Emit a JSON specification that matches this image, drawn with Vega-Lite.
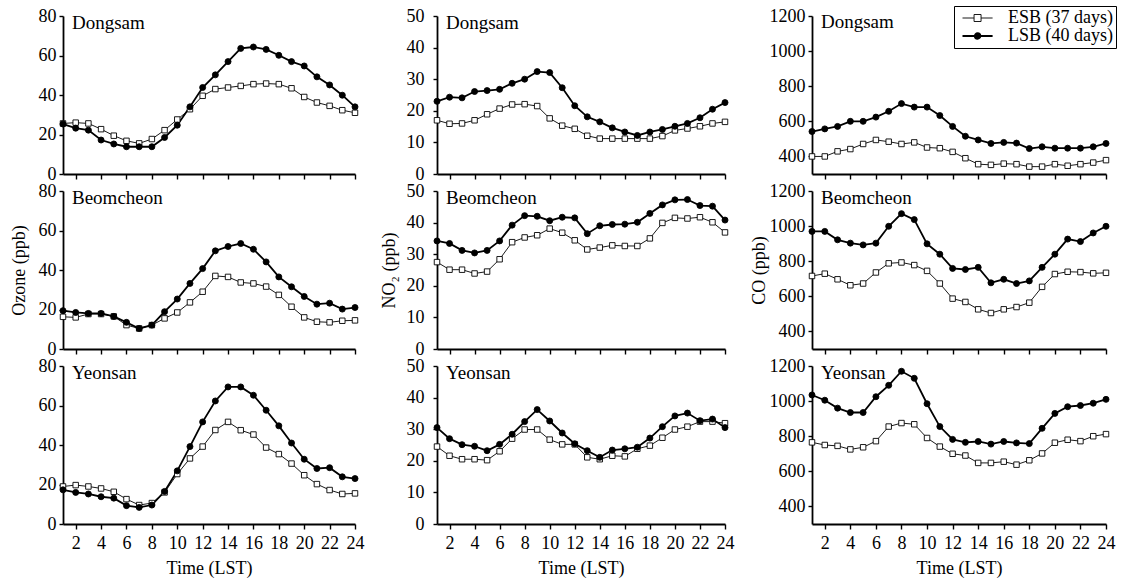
{
"$schema": "https://vega.github.io/schema/vega-lite/v6.json",
"background": "white",
"padding": {"left": 10, "top": 5, "right": 5, "bottom": 5},
"datasets": {
"D_O3": [
{"g":"ESB (37 days)","h":1,"v":25.6},{"g":"ESB (37 days)","h":2,"v":26},{"g":"ESB (37 days)","h":3,"v":25.6},{"g":"ESB (37 days)","h":4,"v":22.7},{"g":"ESB (37 days)","h":5,"v":19.4},{"g":"ESB (37 days)","h":6,"v":16.8},{"g":"ESB (37 days)","h":7,"v":15.5},{"g":"ESB (37 days)","h":8,"v":17.7},{"g":"ESB (37 days)","h":9,"v":22.2},{"g":"ESB (37 days)","h":10,"v":27.6},{"g":"ESB (37 days)","h":11,"v":32.8},{"g":"ESB (37 days)","h":12,"v":39.6},{"g":"ESB (37 days)","h":13,"v":43},{"g":"ESB (37 days)","h":14,"v":43.8},{"g":"ESB (37 days)","h":15,"v":44.6},{"g":"ESB (37 days)","h":16,"v":45.5},{"g":"ESB (37 days)","h":17,"v":45.8},{"g":"ESB (37 days)","h":18,"v":45.5},{"g":"ESB (37 days)","h":19,"v":43.4},{"g":"ESB (37 days)","h":20,"v":39},{"g":"ESB (37 days)","h":21,"v":36.2},{"g":"ESB (37 days)","h":22,"v":34.5},{"g":"ESB (37 days)","h":23,"v":32.3},{"g":"ESB (37 days)","h":24,"v":31},
{"g":"LSB (40 days)","h":1,"v":25.3},{"g":"LSB (40 days)","h":2,"v":23.2},{"g":"LSB (40 days)","h":3,"v":22.2},{"g":"LSB (40 days)","h":4,"v":17.2},{"g":"LSB (40 days)","h":5,"v":15.2},{"g":"LSB (40 days)","h":6,"v":13.8},{"g":"LSB (40 days)","h":7,"v":13.8},{"g":"LSB (40 days)","h":8,"v":13.8},{"g":"LSB (40 days)","h":9,"v":18.5},{"g":"LSB (40 days)","h":10,"v":24.7},{"g":"LSB (40 days)","h":11,"v":34},{"g":"LSB (40 days)","h":12,"v":43.8},{"g":"LSB (40 days)","h":13,"v":50.2},{"g":"LSB (40 days)","h":14,"v":56.9},{"g":"LSB (40 days)","h":15,"v":63.6},{"g":"LSB (40 days)","h":16,"v":64.3},{"g":"LSB (40 days)","h":17,"v":63.1},{"g":"LSB (40 days)","h":18,"v":60.1},{"g":"LSB (40 days)","h":19,"v":56.9},{"g":"LSB (40 days)","h":20,"v":54.7},{"g":"LSB (40 days)","h":21,"v":49.2},{"g":"LSB (40 days)","h":22,"v":45.1},{"g":"LSB (40 days)","h":23,"v":39.9},{"g":"LSB (40 days)","h":24,"v":34}
],
"B_O3": [
{"g":"ESB (37 days)","h":1,"v":16.3},{"g":"ESB (37 days)","h":2,"v":16},{"g":"ESB (37 days)","h":3,"v":17.7},{"g":"ESB (37 days)","h":4,"v":17.7},{"g":"ESB (37 days)","h":5,"v":16.5},{"g":"ESB (37 days)","h":6,"v":12.1},{"g":"ESB (37 days)","h":7,"v":10.4},{"g":"ESB (37 days)","h":8,"v":12.1},{"g":"ESB (37 days)","h":9,"v":15.5},{"g":"ESB (37 days)","h":10,"v":18.5},{"g":"ESB (37 days)","h":11,"v":23.6},{"g":"ESB (37 days)","h":12,"v":29},{"g":"ESB (37 days)","h":13,"v":37},{"g":"ESB (37 days)","h":14,"v":36.5},{"g":"ESB (37 days)","h":15,"v":33.7},{"g":"ESB (37 days)","h":16,"v":33.2},{"g":"ESB (37 days)","h":17,"v":31.6},{"g":"ESB (37 days)","h":18,"v":27.4},{"g":"ESB (37 days)","h":19,"v":21.4},{"g":"ESB (37 days)","h":20,"v":16},{"g":"ESB (37 days)","h":21,"v":13.8},{"g":"ESB (37 days)","h":22,"v":13.5},{"g":"ESB (37 days)","h":23,"v":14.3},{"g":"ESB (37 days)","h":24,"v":14.5},
{"g":"LSB (40 days)","h":1,"v":19.4},{"g":"LSB (40 days)","h":2,"v":18.5},{"g":"LSB (40 days)","h":3,"v":18},{"g":"LSB (40 days)","h":4,"v":18},{"g":"LSB (40 days)","h":5,"v":16.5},{"g":"LSB (40 days)","h":6,"v":13.5},{"g":"LSB (40 days)","h":7,"v":10.4},{"g":"LSB (40 days)","h":8,"v":12.1},{"g":"LSB (40 days)","h":9,"v":18.9},{"g":"LSB (40 days)","h":10,"v":25.3},{"g":"LSB (40 days)","h":11,"v":33.2},{"g":"LSB (40 days)","h":12,"v":40.7},{"g":"LSB (40 days)","h":13,"v":49.7},{"g":"LSB (40 days)","h":14,"v":51.9},{"g":"LSB (40 days)","h":15,"v":53.4},{"g":"LSB (40 days)","h":16,"v":50.5},{"g":"LSB (40 days)","h":17,"v":44.1},{"g":"LSB (40 days)","h":18,"v":36.5},{"g":"LSB (40 days)","h":19,"v":31.5},{"g":"LSB (40 days)","h":20,"v":26.6},{"g":"LSB (40 days)","h":21,"v":22.7},{"g":"LSB (40 days)","h":22,"v":23.2},{"g":"LSB (40 days)","h":23,"v":20.2},{"g":"LSB (40 days)","h":24,"v":21}
],
"Y_O3": [
{"g":"ESB (37 days)","h":1,"v":19},{"g":"ESB (37 days)","h":2,"v":19.7},{"g":"ESB (37 days)","h":3,"v":19},{"g":"ESB (37 days)","h":4,"v":18},{"g":"ESB (37 days)","h":5,"v":16.3},{"g":"ESB (37 days)","h":6,"v":12.6},{"g":"ESB (37 days)","h":7,"v":9.6},{"g":"ESB (37 days)","h":8,"v":10.6},{"g":"ESB (37 days)","h":9,"v":16},{"g":"ESB (37 days)","h":10,"v":25.3},{"g":"ESB (37 days)","h":11,"v":33.2},{"g":"ESB (37 days)","h":12,"v":39.2},{"g":"ESB (37 days)","h":13,"v":47.6},{"g":"ESB (37 days)","h":14,"v":51.7},{"g":"ESB (37 days)","h":15,"v":47.5},{"g":"ESB (37 days)","h":16,"v":45.3},{"g":"ESB (37 days)","h":17,"v":38.7},{"g":"ESB (37 days)","h":18,"v":35.4},{"g":"ESB (37 days)","h":19,"v":30.6},{"g":"ESB (37 days)","h":20,"v":24.7},{"g":"ESB (37 days)","h":21,"v":20.2},{"g":"ESB (37 days)","h":22,"v":17.2},{"g":"ESB (37 days)","h":23,"v":15.2},{"g":"ESB (37 days)","h":24,"v":15.5},
{"g":"LSB (40 days)","h":1,"v":17.3},{"g":"LSB (40 days)","h":2,"v":16},{"g":"LSB (40 days)","h":3,"v":15.2},{"g":"LSB (40 days)","h":4,"v":13.8},{"g":"LSB (40 days)","h":5,"v":13.1},{"g":"LSB (40 days)","h":6,"v":9.3},{"g":"LSB (40 days)","h":7,"v":8.4},{"g":"LSB (40 days)","h":8,"v":9.6},{"g":"LSB (40 days)","h":9,"v":16.5},{"g":"LSB (40 days)","h":10,"v":26.9},{"g":"LSB (40 days)","h":11,"v":39.2},{"g":"LSB (40 days)","h":12,"v":51.7},{"g":"LSB (40 days)","h":13,"v":62.3},{"g":"LSB (40 days)","h":14,"v":69.4},{"g":"LSB (40 days)","h":15,"v":69.4},{"g":"LSB (40 days)","h":16,"v":65.2},{"g":"LSB (40 days)","h":17,"v":57.6},{"g":"LSB (40 days)","h":18,"v":49.7},{"g":"LSB (40 days)","h":19,"v":41},{"g":"LSB (40 days)","h":20,"v":32.8},{"g":"LSB (40 days)","h":21,"v":28.1},{"g":"LSB (40 days)","h":22,"v":28.5},{"g":"LSB (40 days)","h":23,"v":23.9},{"g":"LSB (40 days)","h":24,"v":23}
],
"D_NO2": [
{"g":"ESB (37 days)","h":1,"v":17},{"g":"ESB (37 days)","h":2,"v":15.9},{"g":"ESB (37 days)","h":3,"v":16},{"g":"ESB (37 days)","h":4,"v":17},{"g":"ESB (37 days)","h":5,"v":18.9},{"g":"ESB (37 days)","h":6,"v":20.7},{"g":"ESB (37 days)","h":7,"v":22},{"g":"ESB (37 days)","h":8,"v":22.1},{"g":"ESB (37 days)","h":9,"v":21.5},{"g":"ESB (37 days)","h":10,"v":17.6},{"g":"ESB (37 days)","h":11,"v":15.3},{"g":"ESB (37 days)","h":12,"v":14.3},{"g":"ESB (37 days)","h":13,"v":12.1},{"g":"ESB (37 days)","h":14,"v":11.2},{"g":"ESB (37 days)","h":15,"v":11.2},{"g":"ESB (37 days)","h":16,"v":11.2},{"g":"ESB (37 days)","h":17,"v":11.2},{"g":"ESB (37 days)","h":18,"v":11.2},{"g":"ESB (37 days)","h":19,"v":12},{"g":"ESB (37 days)","h":20,"v":13.8},{"g":"ESB (37 days)","h":21,"v":14.4},{"g":"ESB (37 days)","h":22,"v":15.1},{"g":"ESB (37 days)","h":23,"v":16},{"g":"ESB (37 days)","h":24,"v":16.5},
{"g":"LSB (40 days)","h":1,"v":23},{"g":"LSB (40 days)","h":2,"v":24.3},{"g":"LSB (40 days)","h":3,"v":24.1},{"g":"LSB (40 days)","h":4,"v":26.1},{"g":"LSB (40 days)","h":5,"v":26.4},{"g":"LSB (40 days)","h":6,"v":26.8},{"g":"LSB (40 days)","h":7,"v":28.7},{"g":"LSB (40 days)","h":8,"v":30},{"g":"LSB (40 days)","h":9,"v":32.4},{"g":"LSB (40 days)","h":10,"v":32.1},{"g":"LSB (40 days)","h":11,"v":27.3},{"g":"LSB (40 days)","h":12,"v":21.6},{"g":"LSB (40 days)","h":13,"v":18.1},{"g":"LSB (40 days)","h":14,"v":16.5},{"g":"LSB (40 days)","h":15,"v":14.6},{"g":"LSB (40 days)","h":16,"v":13.3},{"g":"LSB (40 days)","h":17,"v":12.2},{"g":"LSB (40 days)","h":18,"v":13.3},{"g":"LSB (40 days)","h":19,"v":14.1},{"g":"LSB (40 days)","h":20,"v":15.1},{"g":"LSB (40 days)","h":21,"v":16},{"g":"LSB (40 days)","h":22,"v":17.8},{"g":"LSB (40 days)","h":23,"v":20.5},{"g":"LSB (40 days)","h":24,"v":22.6}
],
"B_NO2": [
{"g":"ESB (37 days)","h":1,"v":27.5},{"g":"ESB (37 days)","h":2,"v":25.1},{"g":"ESB (37 days)","h":3,"v":25.1},{"g":"ESB (37 days)","h":4,"v":23.9},{"g":"ESB (37 days)","h":5,"v":24.5},{"g":"ESB (37 days)","h":6,"v":28.4},{"g":"ESB (37 days)","h":7,"v":33.8},{"g":"ESB (37 days)","h":8,"v":35.3},{"g":"ESB (37 days)","h":9,"v":36},{"g":"ESB (37 days)","h":10,"v":38.1},{"g":"ESB (37 days)","h":11,"v":36.8},{"g":"ESB (37 days)","h":12,"v":34.4},{"g":"ESB (37 days)","h":13,"v":31.5},{"g":"ESB (37 days)","h":14,"v":32.1},{"g":"ESB (37 days)","h":15,"v":32.8},{"g":"ESB (37 days)","h":16,"v":32.6},{"g":"ESB (37 days)","h":17,"v":32.6},{"g":"ESB (37 days)","h":18,"v":35},{"g":"ESB (37 days)","h":19,"v":39.9},{"g":"ESB (37 days)","h":20,"v":41.5},{"g":"ESB (37 days)","h":21,"v":41.3},{"g":"ESB (37 days)","h":22,"v":41.7},{"g":"ESB (37 days)","h":23,"v":40.1},{"g":"ESB (37 days)","h":24,"v":36.9},
{"g":"LSB (40 days)","h":1,"v":34.2},{"g":"LSB (40 days)","h":2,"v":33.4},{"g":"LSB (40 days)","h":3,"v":31.2},{"g":"LSB (40 days)","h":4,"v":30.4},{"g":"LSB (40 days)","h":5,"v":31.2},{"g":"LSB (40 days)","h":6,"v":34.2},{"g":"LSB (40 days)","h":7,"v":39.2},{"g":"LSB (40 days)","h":8,"v":42.2},{"g":"LSB (40 days)","h":9,"v":42},{"g":"LSB (40 days)","h":10,"v":40.6},{"g":"LSB (40 days)","h":11,"v":41.7},{"g":"LSB (40 days)","h":12,"v":41.5},{"g":"LSB (40 days)","h":13,"v":36.5},{"g":"LSB (40 days)","h":14,"v":39},{"g":"LSB (40 days)","h":15,"v":39.4},{"g":"LSB (40 days)","h":16,"v":39.5},{"g":"LSB (40 days)","h":17,"v":40.1},{"g":"LSB (40 days)","h":18,"v":42.9},{"g":"LSB (40 days)","h":19,"v":45.6},{"g":"LSB (40 days)","h":20,"v":47.2},{"g":"LSB (40 days)","h":21,"v":47.3},{"g":"LSB (40 days)","h":22,"v":45.4},{"g":"LSB (40 days)","h":23,"v":45.2},{"g":"LSB (40 days)","h":24,"v":40.8}
],
"Y_NO2": [
{"g":"ESB (37 days)","h":1,"v":24.5},{"g":"ESB (37 days)","h":2,"v":21.6},{"g":"ESB (37 days)","h":3,"v":20.5},{"g":"ESB (37 days)","h":4,"v":20.5},{"g":"ESB (37 days)","h":5,"v":20.2},{"g":"ESB (37 days)","h":6,"v":23},{"g":"ESB (37 days)","h":7,"v":27},{"g":"ESB (37 days)","h":8,"v":29.9},{"g":"ESB (37 days)","h":9,"v":29.9},{"g":"ESB (37 days)","h":10,"v":26.7},{"g":"ESB (37 days)","h":11,"v":25.2},{"g":"ESB (37 days)","h":12,"v":25.2},{"g":"ESB (37 days)","h":13,"v":21.1},{"g":"ESB (37 days)","h":14,"v":20.5},{"g":"ESB (37 days)","h":15,"v":21.6},{"g":"ESB (37 days)","h":16,"v":21.4},{"g":"ESB (37 days)","h":17,"v":23.8},{"g":"ESB (37 days)","h":18,"v":24.8},{"g":"ESB (37 days)","h":19,"v":27.3},{"g":"ESB (37 days)","h":20,"v":29.9},{"g":"ESB (37 days)","h":21,"v":30.8},{"g":"ESB (37 days)","h":22,"v":32.4},{"g":"ESB (37 days)","h":23,"v":32.4},{"g":"ESB (37 days)","h":24,"v":31.9},
{"g":"LSB (40 days)","h":1,"v":30.5},{"g":"LSB (40 days)","h":2,"v":27},{"g":"LSB (40 days)","h":3,"v":25.1},{"g":"LSB (40 days)","h":4,"v":24.6},{"g":"LSB (40 days)","h":5,"v":23.2},{"g":"LSB (40 days)","h":6,"v":25.2},{"g":"LSB (40 days)","h":7,"v":28.4},{"g":"LSB (40 days)","h":8,"v":32.4},{"g":"LSB (40 days)","h":9,"v":36.2},{"g":"LSB (40 days)","h":10,"v":32.6},{"g":"LSB (40 days)","h":11,"v":28.8},{"g":"LSB (40 days)","h":12,"v":25.4},{"g":"LSB (40 days)","h":13,"v":23.2},{"g":"LSB (40 days)","h":14,"v":21.1},{"g":"LSB (40 days)","h":15,"v":23.4},{"g":"LSB (40 days)","h":16,"v":23.8},{"g":"LSB (40 days)","h":17,"v":24.3},{"g":"LSB (40 days)","h":18,"v":27.2},{"g":"LSB (40 days)","h":19,"v":30.8},{"g":"LSB (40 days)","h":20,"v":34.2},{"g":"LSB (40 days)","h":21,"v":35.1},{"g":"LSB (40 days)","h":22,"v":32.7},{"g":"LSB (40 days)","h":23,"v":33.2},{"g":"LSB (40 days)","h":24,"v":30.5}
],
"D_CO": [
{"g":"ESB (37 days)","h":1,"v":400},{"g":"ESB (37 days)","h":2,"v":400},{"g":"ESB (37 days)","h":3,"v":429},{"g":"ESB (37 days)","h":4,"v":442},{"g":"ESB (37 days)","h":5,"v":471},{"g":"ESB (37 days)","h":6,"v":494},{"g":"ESB (37 days)","h":7,"v":484},{"g":"ESB (37 days)","h":8,"v":471},{"g":"ESB (37 days)","h":9,"v":480},{"g":"ESB (37 days)","h":10,"v":451},{"g":"ESB (37 days)","h":11,"v":447},{"g":"ESB (37 days)","h":12,"v":426},{"g":"ESB (37 days)","h":13,"v":390},{"g":"ESB (37 days)","h":14,"v":356},{"g":"ESB (37 days)","h":15,"v":352},{"g":"ESB (37 days)","h":16,"v":359},{"g":"ESB (37 days)","h":17,"v":356},{"g":"ESB (37 days)","h":18,"v":342},{"g":"ESB (37 days)","h":19,"v":342},{"g":"ESB (37 days)","h":20,"v":356},{"g":"ESB (37 days)","h":21,"v":347},{"g":"ESB (37 days)","h":22,"v":356},{"g":"ESB (37 days)","h":23,"v":365},{"g":"ESB (37 days)","h":24,"v":379},
{"g":"LSB (40 days)","h":1,"v":542},{"g":"LSB (40 days)","h":2,"v":557},{"g":"LSB (40 days)","h":3,"v":571},{"g":"LSB (40 days)","h":4,"v":600},{"g":"LSB (40 days)","h":5,"v":600},{"g":"LSB (40 days)","h":6,"v":624},{"g":"LSB (40 days)","h":7,"v":657},{"g":"LSB (40 days)","h":8,"v":701},{"g":"LSB (40 days)","h":9,"v":681},{"g":"LSB (40 days)","h":10,"v":681},{"g":"LSB (40 days)","h":11,"v":633},{"g":"LSB (40 days)","h":12,"v":571},{"g":"LSB (40 days)","h":13,"v":515},{"g":"LSB (40 days)","h":14,"v":494},{"g":"LSB (40 days)","h":15,"v":474},{"g":"LSB (40 days)","h":16,"v":480},{"g":"LSB (40 days)","h":17,"v":476},{"g":"LSB (40 days)","h":18,"v":445},{"g":"LSB (40 days)","h":19,"v":455},{"g":"LSB (40 days)","h":20,"v":447},{"g":"LSB (40 days)","h":21,"v":447},{"g":"LSB (40 days)","h":22,"v":447},{"g":"LSB (40 days)","h":23,"v":455},{"g":"LSB (40 days)","h":24,"v":474}
],
"B_CO": [
{"g":"ESB (37 days)","h":1,"v":716},{"g":"ESB (37 days)","h":2,"v":729},{"g":"ESB (37 days)","h":3,"v":697},{"g":"ESB (37 days)","h":4,"v":663},{"g":"ESB (37 days)","h":5,"v":673},{"g":"ESB (37 days)","h":6,"v":736},{"g":"ESB (37 days)","h":7,"v":788},{"g":"ESB (37 days)","h":8,"v":793},{"g":"ESB (37 days)","h":9,"v":778},{"g":"ESB (37 days)","h":10,"v":745},{"g":"ESB (37 days)","h":11,"v":673},{"g":"ESB (37 days)","h":12,"v":587},{"g":"ESB (37 days)","h":13,"v":568},{"g":"ESB (37 days)","h":14,"v":526},{"g":"ESB (37 days)","h":15,"v":505},{"g":"ESB (37 days)","h":16,"v":526},{"g":"ESB (37 days)","h":17,"v":539},{"g":"ESB (37 days)","h":18,"v":564},{"g":"ESB (37 days)","h":19,"v":654},{"g":"ESB (37 days)","h":20,"v":727},{"g":"ESB (37 days)","h":21,"v":740},{"g":"ESB (37 days)","h":22,"v":738},{"g":"ESB (37 days)","h":23,"v":731},{"g":"ESB (37 days)","h":24,"v":734},
{"g":"LSB (40 days)","h":1,"v":970},{"g":"LSB (40 days)","h":2,"v":970},{"g":"LSB (40 days)","h":3,"v":922},{"g":"LSB (40 days)","h":4,"v":903},{"g":"LSB (40 days)","h":5,"v":893},{"g":"LSB (40 days)","h":6,"v":903},{"g":"LSB (40 days)","h":7,"v":999},{"g":"LSB (40 days)","h":8,"v":1071},{"g":"LSB (40 days)","h":9,"v":1037},{"g":"LSB (40 days)","h":10,"v":899},{"g":"LSB (40 days)","h":11,"v":840},{"g":"LSB (40 days)","h":12,"v":759},{"g":"LSB (40 days)","h":13,"v":753},{"g":"LSB (40 days)","h":14,"v":765},{"g":"LSB (40 days)","h":15,"v":677},{"g":"LSB (40 days)","h":16,"v":697},{"g":"LSB (40 days)","h":17,"v":673},{"g":"LSB (40 days)","h":18,"v":688},{"g":"LSB (40 days)","h":19,"v":765},{"g":"LSB (40 days)","h":20,"v":840},{"g":"LSB (40 days)","h":21,"v":926},{"g":"LSB (40 days)","h":22,"v":912},{"g":"LSB (40 days)","h":23,"v":961},{"g":"LSB (40 days)","h":24,"v":999}
],
"Y_CO": [
{"g":"ESB (37 days)","h":1,"v":765},{"g":"ESB (37 days)","h":2,"v":750},{"g":"ESB (37 days)","h":3,"v":745},{"g":"ESB (37 days)","h":4,"v":725},{"g":"ESB (37 days)","h":5,"v":737},{"g":"ESB (37 days)","h":6,"v":772},{"g":"ESB (37 days)","h":7,"v":855},{"g":"ESB (37 days)","h":8,"v":875},{"g":"ESB (37 days)","h":9,"v":868},{"g":"ESB (37 days)","h":10,"v":790},{"g":"ESB (37 days)","h":11,"v":741},{"g":"ESB (37 days)","h":12,"v":700},{"g":"ESB (37 days)","h":13,"v":690},{"g":"ESB (37 days)","h":14,"v":648},{"g":"ESB (37 days)","h":15,"v":648},{"g":"ESB (37 days)","h":16,"v":655},{"g":"ESB (37 days)","h":17,"v":638},{"g":"ESB (37 days)","h":18,"v":663},{"g":"ESB (37 days)","h":19,"v":702},{"g":"ESB (37 days)","h":20,"v":763},{"g":"ESB (37 days)","h":21,"v":780},{"g":"ESB (37 days)","h":22,"v":772},{"g":"ESB (37 days)","h":23,"v":800},{"g":"ESB (37 days)","h":24,"v":812},
{"g":"LSB (40 days)","h":1,"v":1035},{"g":"LSB (40 days)","h":2,"v":1005},{"g":"LSB (40 days)","h":3,"v":960},{"g":"LSB (40 days)","h":4,"v":935},{"g":"LSB (40 days)","h":5,"v":935},{"g":"LSB (40 days)","h":6,"v":1025},{"g":"LSB (40 days)","h":7,"v":1090},{"g":"LSB (40 days)","h":8,"v":1170},{"g":"LSB (40 days)","h":9,"v":1130},{"g":"LSB (40 days)","h":10,"v":985},{"g":"LSB (40 days)","h":11,"v":855},{"g":"LSB (40 days)","h":12,"v":782},{"g":"LSB (40 days)","h":13,"v":765},{"g":"LSB (40 days)","h":14,"v":770},{"g":"LSB (40 days)","h":15,"v":755},{"g":"LSB (40 days)","h":16,"v":770},{"g":"LSB (40 days)","h":17,"v":762},{"g":"LSB (40 days)","h":18,"v":758},{"g":"LSB (40 days)","h":19,"v":845},{"g":"LSB (40 days)","h":20,"v":930},{"g":"LSB (40 days)","h":21,"v":968},{"g":"LSB (40 days)","h":22,"v":975},{"g":"LSB (40 days)","h":23,"v":988},{"g":"LSB (40 days)","h":24,"v":1010}
]
},
"spacing": 16,
"resolve": {"scale": {"shape": "independent", "fill": "independent", "size": "independent", "strokeWidth": "independent"}},
"hconcat": [
{
"bounds": "flush",
"spacing": 17,
"resolve": {"scale": {"shape": "independent", "fill": "independent", "size": "independent", "strokeWidth": "independent"}},
"vconcat": [
{"width": 292, "height": 158, "data": {"name": "D_O3"}, "title": {"text": "Dongsam"},
"encoding": {"x": {"field": "h", "type": "quantitative", "scale": {"domain": [1, 24], "nice": false, "zero": false}, "axis": {"values": [2,4,6,8,10,12,14,16,18,20,22,24], "labels": false, "title": null}},
"y": {"field": "v", "type": "quantitative", "scale": {"domain": [0, 80], "nice": false, "zero": false}, "axis": {"values": [0,20,40,60,80], "title": null, "labelPadding": 3}}},
"layer": [
{"mark": {"type": "line", "color": "black"}, "encoding": {"detail": {"field": "g"}, "strokeWidth": {"field": "g", "type": "ordinal", "scale": {"domain": ["ESB (37 days)", "LSB (40 days)"], "range": [0.9, 1.8]}, "legend": null}}},
{"mark": {"type": "point", "filled": true, "opacity": 1, "stroke": "black", "strokeWidth": 0.9}, "encoding": {"shape": {"field": "g", "type": "nominal", "scale": {"domain": ["ESB (37 days)", "LSB (40 days)"], "range": ["square", "circle"]}, "legend": null}, "fill": {"field": "g", "type": "nominal", "scale": {"domain": ["ESB (37 days)", "LSB (40 days)"], "range": ["white", "black"]}, "legend": null}, "size": {"field": "g", "type": "ordinal", "scale": {"domain": ["ESB (37 days)", "LSB (40 days)"], "range": [30, 36]}, "legend": null}}}
]},
{"width": 292, "height": 158, "data": {"name": "B_O3"}, "title": {"text": "Beomcheon"},
"encoding": {"x": {"field": "h", "type": "quantitative", "scale": {"domain": [1, 24], "nice": false, "zero": false}, "axis": {"values": [2,4,6,8,10,12,14,16,18,20,22,24], "labels": false, "title": null}},
"y": {"field": "v", "type": "quantitative", "scale": {"domain": [0, 80], "nice": false, "zero": false}, "axis": {"values": [0,20,40,60,80], "title": "Ozone (ppb)", "labelPadding": 3, "titlePadding": 10}}},
"layer": [
{"mark": {"type": "line", "color": "black"}, "encoding": {"detail": {"field": "g"}, "strokeWidth": {"field": "g", "type": "ordinal", "scale": {"domain": ["ESB (37 days)", "LSB (40 days)"], "range": [0.9, 1.8]}, "legend": null}}},
{"mark": {"type": "point", "filled": true, "opacity": 1, "stroke": "black", "strokeWidth": 0.9}, "encoding": {"shape": {"field": "g", "type": "nominal", "scale": {"domain": ["ESB (37 days)", "LSB (40 days)"], "range": ["square", "circle"]}, "legend": null}, "fill": {"field": "g", "type": "nominal", "scale": {"domain": ["ESB (37 days)", "LSB (40 days)"], "range": ["white", "black"]}, "legend": null}, "size": {"field": "g", "type": "ordinal", "scale": {"domain": ["ESB (37 days)", "LSB (40 days)"], "range": [30, 36]}, "legend": null}}}
]},
{"width": 292, "height": 158, "data": {"name": "Y_O3"}, "title": {"text": "Yeonsan"},
"encoding": {"x": {"field": "h", "type": "quantitative", "scale": {"domain": [1, 24], "nice": false, "zero": false}, "axis": {"values": [2,4,6,8,10,12,14,16,18,20,22,24], "title": "Time (LST)"}},
"y": {"field": "v", "type": "quantitative", "scale": {"domain": [0, 80], "nice": false, "zero": false}, "axis": {"values": [0,20,40,60,80], "title": null, "labelPadding": 3}}},
"layer": [
{"mark": {"type": "line", "color": "black"}, "encoding": {"detail": {"field": "g"}, "strokeWidth": {"field": "g", "type": "ordinal", "scale": {"domain": ["ESB (37 days)", "LSB (40 days)"], "range": [0.9, 1.8]}, "legend": null}}},
{"mark": {"type": "point", "filled": true, "opacity": 1, "stroke": "black", "strokeWidth": 0.9}, "encoding": {"shape": {"field": "g", "type": "nominal", "scale": {"domain": ["ESB (37 days)", "LSB (40 days)"], "range": ["square", "circle"]}, "legend": null}, "fill": {"field": "g", "type": "nominal", "scale": {"domain": ["ESB (37 days)", "LSB (40 days)"], "range": ["white", "black"]}, "legend": null}, "size": {"field": "g", "type": "ordinal", "scale": {"domain": ["ESB (37 days)", "LSB (40 days)"], "range": [30, 36]}, "legend": null}}}
]}
]
},
{
"bounds": "flush",
"spacing": 17,
"resolve": {"scale": {"shape": "independent", "fill": "independent", "size": "independent", "strokeWidth": "independent"}},
"vconcat": [
{"width": 288, "height": 158, "data": {"name": "D_NO2"}, "title": {"text": "Dongsam"},
"encoding": {"x": {"field": "h", "type": "quantitative", "scale": {"domain": [1, 24], "nice": false, "zero": false}, "axis": {"values": [2,4,6,8,10,12,14,16,18,20,22,24], "labels": false, "title": null}},
"y": {"field": "v", "type": "quantitative", "scale": {"domain": [0, 50], "nice": false, "zero": false}, "axis": {"values": [0,10,20,30,40,50], "title": null, "labelPadding": 9}}},
"layer": [
{"mark": {"type": "line", "color": "black"}, "encoding": {"detail": {"field": "g"}, "strokeWidth": {"field": "g", "type": "ordinal", "scale": {"domain": ["ESB (37 days)", "LSB (40 days)"], "range": [0.9, 1.8]}, "legend": null}}},
{"mark": {"type": "point", "filled": true, "opacity": 1, "stroke": "black", "strokeWidth": 0.9}, "encoding": {"shape": {"field": "g", "type": "nominal", "scale": {"domain": ["ESB (37 days)", "LSB (40 days)"], "range": ["square", "circle"]}, "legend": null}, "fill": {"field": "g", "type": "nominal", "scale": {"domain": ["ESB (37 days)", "LSB (40 days)"], "range": ["white", "black"]}, "legend": null}, "size": {"field": "g", "type": "ordinal", "scale": {"domain": ["ESB (37 days)", "LSB (40 days)"], "range": [30, 36]}, "legend": null}}}
]},
{"width": 288, "height": 158, "data": {"name": "B_NO2"}, "title": {"text": "Beomcheon"},
"encoding": {"x": {"field": "h", "type": "quantitative", "scale": {"domain": [1, 24], "nice": false, "zero": false}, "axis": {"values": [2,4,6,8,10,12,14,16,18,20,22,24], "labels": false, "title": null}},
"y": {"field": "v", "type": "quantitative", "scale": {"domain": [0, 50], "nice": false, "zero": false}, "axis": {"values": [0,10,20,30,40,50], "title": "NO₂ (ppb)", "labelPadding": 9, "titlePadding": 8}}},
"layer": [
{"mark": {"type": "line", "color": "black"}, "encoding": {"detail": {"field": "g"}, "strokeWidth": {"field": "g", "type": "ordinal", "scale": {"domain": ["ESB (37 days)", "LSB (40 days)"], "range": [0.9, 1.8]}, "legend": null}}},
{"mark": {"type": "point", "filled": true, "opacity": 1, "stroke": "black", "strokeWidth": 0.9}, "encoding": {"shape": {"field": "g", "type": "nominal", "scale": {"domain": ["ESB (37 days)", "LSB (40 days)"], "range": ["square", "circle"]}, "legend": null}, "fill": {"field": "g", "type": "nominal", "scale": {"domain": ["ESB (37 days)", "LSB (40 days)"], "range": ["white", "black"]}, "legend": null}, "size": {"field": "g", "type": "ordinal", "scale": {"domain": ["ESB (37 days)", "LSB (40 days)"], "range": [30, 36]}, "legend": null}}}
]},
{"width": 288, "height": 158, "data": {"name": "Y_NO2"}, "title": {"text": "Yeonsan"},
"encoding": {"x": {"field": "h", "type": "quantitative", "scale": {"domain": [1, 24], "nice": false, "zero": false}, "axis": {"values": [2,4,6,8,10,12,14,16,18,20,22,24], "title": "Time (LST)"}},
"y": {"field": "v", "type": "quantitative", "scale": {"domain": [0, 50], "nice": false, "zero": false}, "axis": {"values": [0,10,20,30,40,50], "title": null, "labelPadding": 9}}},
"layer": [
{"mark": {"type": "line", "color": "black"}, "encoding": {"detail": {"field": "g"}, "strokeWidth": {"field": "g", "type": "ordinal", "scale": {"domain": ["ESB (37 days)", "LSB (40 days)"], "range": [0.9, 1.8]}, "legend": null}}},
{"mark": {"type": "point", "filled": true, "opacity": 1, "stroke": "black", "strokeWidth": 0.9}, "encoding": {"shape": {"field": "g", "type": "nominal", "scale": {"domain": ["ESB (37 days)", "LSB (40 days)"], "range": ["square", "circle"]}, "legend": null}, "fill": {"field": "g", "type": "nominal", "scale": {"domain": ["ESB (37 days)", "LSB (40 days)"], "range": ["white", "black"]}, "legend": null}, "size": {"field": "g", "type": "ordinal", "scale": {"domain": ["ESB (37 days)", "LSB (40 days)"], "range": [30, 36]}, "legend": null}}}
]}
]
},
{
"bounds": "flush",
"spacing": 17,
"resolve": {"scale": {"shape": "independent", "fill": "independent", "size": "independent", "strokeWidth": "independent"}},
"vconcat": [
{"width": 294, "height": 158, "data": {"name": "D_CO"}, "title": {"text": "Dongsam"},
"encoding": {"x": {"field": "h", "type": "quantitative", "scale": {"domain": [1, 24], "nice": false, "zero": false}, "axis": {"values": [2,4,6,8,10,12,14,16,18,20,22,24], "labels": false, "title": null}},
"y": {"field": "v", "type": "quantitative", "scale": {"domain": [300, 1200], "nice": false, "zero": false}, "axis": {"values": [400,600,800,1000,1200], "format": "d", "title": null, "labelPadding": 3}}},
"layer": [
{"mark": {"type": "line", "color": "black"}, "encoding": {"detail": {"field": "g"}, "strokeWidth": {"field": "g", "type": "ordinal", "scale": {"domain": ["ESB (37 days)", "LSB (40 days)"], "range": [0.9, 1.8]},
"legend": {"title": null, "orient": "top-right", "offset": -10, "symbolSize": 49, "labelOffset": 33, "padding": 3, "strokeColor": "black", "fillColor": "white", "rowPadding": 0, "labelFontSize": 18, "labelFont": "Liberation Serif", "labelColor": "black",
"encoding": {"symbols": {"shape": {"value": {"signal": "datum.value === 'LSB (40 days)' ? 'M-1,0H7.6M2.5,0A0.8,0.8 0 1,1 4.1,0A0.8,0.8 0 1,1 2.5,0Z' : 'M-1,0H2.3M2.3,-1H4.3V1H2.3ZM4.3,0H7.6'"}}, "fill": {"value": {"signal": "datum.value === 'LSB (40 days)' ? 'black' : 'white'"}}, "stroke": {"value": "black"}, "opacity": {"value": 1}}}}}}},
{"mark": {"type": "point", "filled": true, "opacity": 1, "stroke": "black", "strokeWidth": 0.9}, "encoding": {"shape": {"field": "g", "type": "nominal", "scale": {"domain": ["LSB (40 days)", "ESB (37 days)"], "range": ["circle", "square"]}, "legend": null},
"fill": {"field": "g", "type": "nominal", "scale": {"domain": ["LSB (40 days)", "ESB (37 days)"], "range": ["black", "white"]}, "legend": null}, "size": {"field": "g", "type": "ordinal", "scale": {"domain": ["LSB (40 days)", "ESB (37 days)"], "range": [36, 30]}, "legend": null}}}
]},
{"width": 294, "height": 158, "data": {"name": "B_CO"}, "title": {"text": "Beomcheon"},
"encoding": {"x": {"field": "h", "type": "quantitative", "scale": {"domain": [1, 24], "nice": false, "zero": false}, "axis": {"values": [2,4,6,8,10,12,14,16,18,20,22,24], "labels": false, "title": null}},
"y": {"field": "v", "type": "quantitative", "scale": {"domain": [300, 1200], "nice": false, "zero": false}, "axis": {"values": [400,600,800,1000,1200], "format": "d", "title": "CO (ppb)", "labelPadding": 3, "titlePadding": 1}}},
"layer": [
{"mark": {"type": "line", "color": "black"}, "encoding": {"detail": {"field": "g"}, "strokeWidth": {"field": "g", "type": "ordinal", "scale": {"domain": ["ESB (37 days)", "LSB (40 days)"], "range": [0.9, 1.8]}, "legend": null}}},
{"mark": {"type": "point", "filled": true, "opacity": 1, "stroke": "black", "strokeWidth": 0.9}, "encoding": {"shape": {"field": "g", "type": "nominal", "scale": {"domain": ["ESB (37 days)", "LSB (40 days)"], "range": ["square", "circle"]}, "legend": null}, "fill": {"field": "g", "type": "nominal", "scale": {"domain": ["ESB (37 days)", "LSB (40 days)"], "range": ["white", "black"]}, "legend": null}, "size": {"field": "g", "type": "ordinal", "scale": {"domain": ["ESB (37 days)", "LSB (40 days)"], "range": [30, 36]}, "legend": null}}}
]},
{"width": 294, "height": 158, "data": {"name": "Y_CO"}, "title": {"text": "Yeonsan"},
"encoding": {"x": {"field": "h", "type": "quantitative", "scale": {"domain": [1, 24], "nice": false, "zero": false}, "axis": {"values": [2,4,6,8,10,12,14,16,18,20,22,24], "title": "Time (LST)"}},
"y": {"field": "v", "type": "quantitative", "scale": {"domain": [300, 1200], "nice": false, "zero": false}, "axis": {"values": [400,600,800,1000,1200], "format": "d", "title": null, "labelPadding": 3}}},
"layer": [
{"mark": {"type": "line", "color": "black"}, "encoding": {"detail": {"field": "g"}, "strokeWidth": {"field": "g", "type": "ordinal", "scale": {"domain": ["ESB (37 days)", "LSB (40 days)"], "range": [0.9, 1.8]}, "legend": null}}},
{"mark": {"type": "point", "filled": true, "opacity": 1, "stroke": "black", "strokeWidth": 0.9}, "encoding": {"shape": {"field": "g", "type": "nominal", "scale": {"domain": ["ESB (37 days)", "LSB (40 days)"], "range": ["square", "circle"]}, "legend": null}, "fill": {"field": "g", "type": "nominal", "scale": {"domain": ["ESB (37 days)", "LSB (40 days)"], "range": ["white", "black"]}, "legend": null}, "size": {"field": "g", "type": "ordinal", "scale": {"domain": ["ESB (37 days)", "LSB (40 days)"], "range": [30, 36]}, "legend": null}}}
]}
]
}
],
"config": {
"view": {"stroke": null},
"font": "Liberation Serif",
"axis": {"labelFont": "Liberation Serif", "labelFontSize": 18, "labelColor": "black", "titleFont": "Liberation Serif", "titleFontSize": 18, "titleFontWeight": "normal", "titleColor": "black", "domainColor": "black", "domainWidth": 1.8, "tickColor": "black", "tickWidth": 1.4, "grid": false, "labelFlush": false, "labelOverlap": false},
"axisX": {"tickSize": 5, "labelPadding": 5, "titlePadding": 7},
"axisY": {"tickSize": 4},
"title": {"font": "Liberation Serif", "fontSize": 19, "fontWeight": "normal", "color": "black", "anchor": "start", "frame": "group", "dx": 9, "offset": -26},
"legend": {"labelFont": "Liberation Serif", "labelFontSize": 18, "labelColor": "black"}
}
}
